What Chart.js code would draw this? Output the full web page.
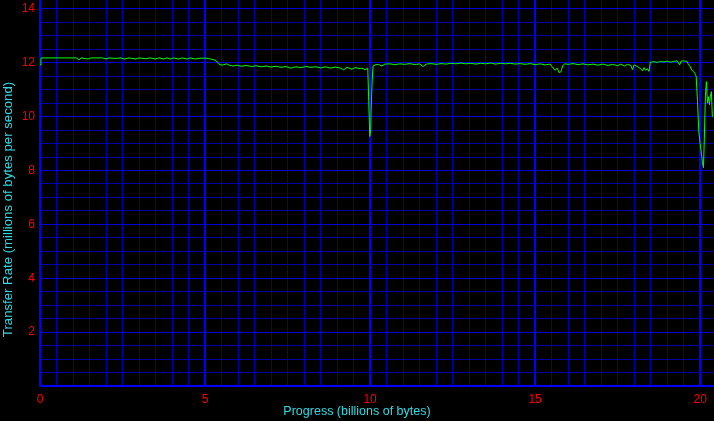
<!DOCTYPE html>
<html>
<head>
<meta charset="utf-8">
<script src="https://cdn.jsdelivr.net/npm/chart.js@4/dist/chart.umd.min.js"></script>
<style>
  html, body { margin: 0; padding: 0; background: #000; }
  canvas { display: block; }
</style>
</head>
<body>
<canvas id="c" width="714" height="421"></canvas>
<script>
// Progress (billions of bytes)
const progress = [
  0.00, 0.03, 0.30, 0.60, 0.90, 1.10, 1.18, 1.25, 1.45, 1.55,
  1.90, 2.00, 2.10, 2.30, 2.45, 2.55, 2.70, 2.90, 3.00, 3.20,
  3.35, 3.50, 3.60, 3.75, 3.85, 3.95, 4.05, 4.20, 4.30, 4.45,
  4.55, 4.70, 4.85, 5.00, 5.10, 5.20, 5.30, 5.40, 5.45, 5.55,
  5.65, 5.75, 5.85, 5.95, 6.10, 6.25, 6.40, 6.55, 6.70, 6.85,
  7.00, 7.15, 7.30, 7.45, 7.60, 7.75, 7.90, 8.05, 8.20, 8.35,
  8.50, 8.65, 8.80, 8.95, 9.10, 9.20, 9.30, 9.45, 9.55, 9.70,
  9.75, 9.85, 9.93, 9.96, 9.99, 10.02, 10.03, 10.06, 10.09, 10.15,
  10.25, 10.35, 10.45, 10.60, 10.75, 10.90, 11.05, 11.20, 11.35, 11.50,
  11.60, 11.70, 11.85, 12.00, 12.15, 12.30, 12.45, 12.60, 12.75, 12.90,
  13.05, 13.20, 13.35, 13.50, 13.65, 13.80, 13.95, 14.10, 14.25, 14.40,
  14.55, 14.70, 14.85, 15.00, 15.15, 15.30, 15.45, 15.52, 15.60, 15.67,
  15.73, 15.78, 15.84, 15.90, 16.00, 16.15, 16.30, 16.45, 16.60, 16.75,
  16.90, 17.05, 17.20, 17.35, 17.50, 17.60, 17.70, 17.80, 17.90, 17.95,
  18.00, 18.10, 18.20, 18.25, 18.30, 18.35, 18.40, 18.45, 18.49, 18.60,
  18.70, 18.80, 18.90, 19.00, 19.10, 19.20, 19.30, 19.38, 19.42, 19.50,
  19.60, 19.65, 19.70, 19.75, 19.80, 19.84, 19.88, 19.92, 19.96, 20.00,
  20.05, 20.07, 20.10, 20.13, 20.16, 20.19, 20.22, 20.25, 20.28, 20.31,
  20.34, 20.37
];
// Transfer Rate (millions of bytes per second)
const transferRate = [
  11.92, 12.18, 12.18, 12.18, 12.18, 12.18, 12.11, 12.18, 12.14, 12.18,
  12.18, 12.14, 12.18, 12.16, 12.18, 12.14, 12.18, 12.14, 12.18, 12.15,
  12.18, 12.14, 12.18, 12.14, 12.18, 12.14, 12.18, 12.14, 12.18, 12.14,
  12.18, 12.14, 12.17, 12.17, 12.16, 12.13, 12.10, 12.00, 11.92, 11.92,
  11.96, 11.90, 11.88, 11.91, 11.87, 11.90, 11.86, 11.89, 11.85, 11.88,
  11.84, 11.87, 11.83, 11.86, 11.80, 11.85, 11.82, 11.86, 11.83, 11.85,
  11.81, 11.85, 11.80, 11.84, 11.80, 11.74, 11.83, 11.76, 11.82, 11.78,
  11.80, 11.74, 11.80, 10.56, 9.26, 9.50, 10.17, 11.25, 11.88, 11.92,
  11.94, 11.88, 11.95, 11.96, 11.93, 11.96, 11.94, 11.97, 11.93, 11.96,
  11.86, 11.95, 11.97, 11.94, 11.97, 11.95, 11.98, 11.96, 11.99, 11.96,
  11.98, 11.95, 11.98, 11.96, 11.99, 11.95, 11.98, 11.96, 11.98, 11.95,
  11.97, 11.94, 11.97, 11.93, 11.96, 11.92, 11.95, 11.85, 11.72, 11.80,
  11.63, 11.66, 11.90, 11.96, 11.94, 11.97, 11.93, 11.96, 11.92, 11.95,
  11.91, 11.95, 11.90, 11.94, 11.89, 11.95, 11.88, 11.94, 11.90, 11.75,
  11.92, 11.86, 11.78, 11.70, 11.82, 11.72, 11.78, 11.68, 12.02, 12.04,
  12.01, 12.05, 12.03, 12.06, 12.02, 12.05, 12.07, 11.92, 12.06, 12.07,
  12.05, 11.93, 11.85, 11.72, 11.68, 11.60, 11.50, 10.56, 9.44, 9.01,
  8.52, 8.30, 8.10, 9.32, 10.80, 11.30, 10.50, 10.74, 10.44, 10.75,
  10.93, 9.99
];
const xTickLabels = [0, 5, 10, 15, 20];
const yTickLabels = [2, 4, 6, 8, 10, 12, 14];
const yTitle = 'Transfer Rate (millions of bytes per second)';

const points = progress.map((x, i) => ({ x: x, y: transferRate[i] }));
const FONT = '"Liberation Sans", Arial, sans-serif';
const CYAN = '#2edce6';

function halfSteps(max) {
  const t = [];
  for (let i = 0; i * 0.5 <= max + 1e-9; i++) t.push({ value: i * 0.5 });
  return t;
}

// y-axis title, centred on the canvas height like the original
const yTitlePlugin = {
  id: 'yTitlePlugin',
  afterDraw(chart) {
    const ctx = chart.ctx;
    ctx.save();
    ctx.translate(8, chart.height / 2 - 1);
    ctx.rotate(-Math.PI / 2);
    ctx.fillStyle = CYAN;
    ctx.font = '13.2px ' + FONT;
    ctx.textAlign = 'center';
    ctx.textBaseline = 'middle';
    ctx.fillText(yTitle, 0, 0);
    ctx.restore();
  }
};

new Chart(document.getElementById('c'), {
  type: 'line',
  data: {
    datasets: [{
      data: points,
      borderColor: '#00ff00',
      borderWidth: 1,
      pointRadius: 0,
      tension: 0,
      fill: false
    }]
  },
  plugins: [yTitlePlugin],
  options: {
    responsive: false,
    devicePixelRatio: 1,
    animation: false,
    events: [],
    layout: { padding: 0 },
    plugins: {
      legend: { display: false },
      tooltip: { enabled: false },
      title: {
        display: true,
        position: 'bottom',
        text: 'Progress (billions of bytes)',
        color: CYAN,
        font: { family: FONT, size: 12.5, weight: 'normal', lineHeight: 1.2 },
        padding: { top: 0, bottom: 2 }
      }
    },
    scales: {
      x: {
        type: 'linear',
        min: 0,
        max: 20.42,
        afterBuildTicks: s => { s.ticks = halfSteps(20); },
        afterFit: s => { s.height = 18; s.paddingLeft = 0; s.paddingRight = 0; },
        border: { display: true, color: '#0000ff', width: 2 },
        grid: {
          drawTicks: false,
          color: c => (c.tick && c.tick.value % 5 === 0) ? '#0000ff' : '#0000aa',
          lineWidth: c => (c.tick && c.tick.value % 5 === 0) ? 2 : 1
        },
        ticks: {
          autoSkip: false,
          maxRotation: 0,
          padding: 6,
          color: '#ff0000',
          font: { family: FONT, size: 12 },
          callback: v => xTickLabels.includes(v) ? String(v) : ''
        },
        title: { display: false }
      },
      y: {
        type: 'linear',
        min: 0,
        max: 14.33,
        afterBuildTicks: s => { s.ticks = halfSteps(14); },
        afterFit: s => { s.width = 40; s.paddingTop = 0; s.paddingBottom = 0; },
        border: { display: true, color: '#0000ff', width: 2 },
        grid: {
          drawTicks: false,
          color: c => (c.tick && c.tick.value % 2 === 0) ? '#0000dd' : '#0000aa',
          lineWidth: 1
        },
        ticks: {
          autoSkip: false,
          padding: 5,
          color: '#ff0000',
          font: { family: FONT, size: 12 },
          callback: v => yTickLabels.includes(v) ? String(v) : ''
        },
        title: { display: false }
      }
    }
  }
});
</script>
</body>
</html>
